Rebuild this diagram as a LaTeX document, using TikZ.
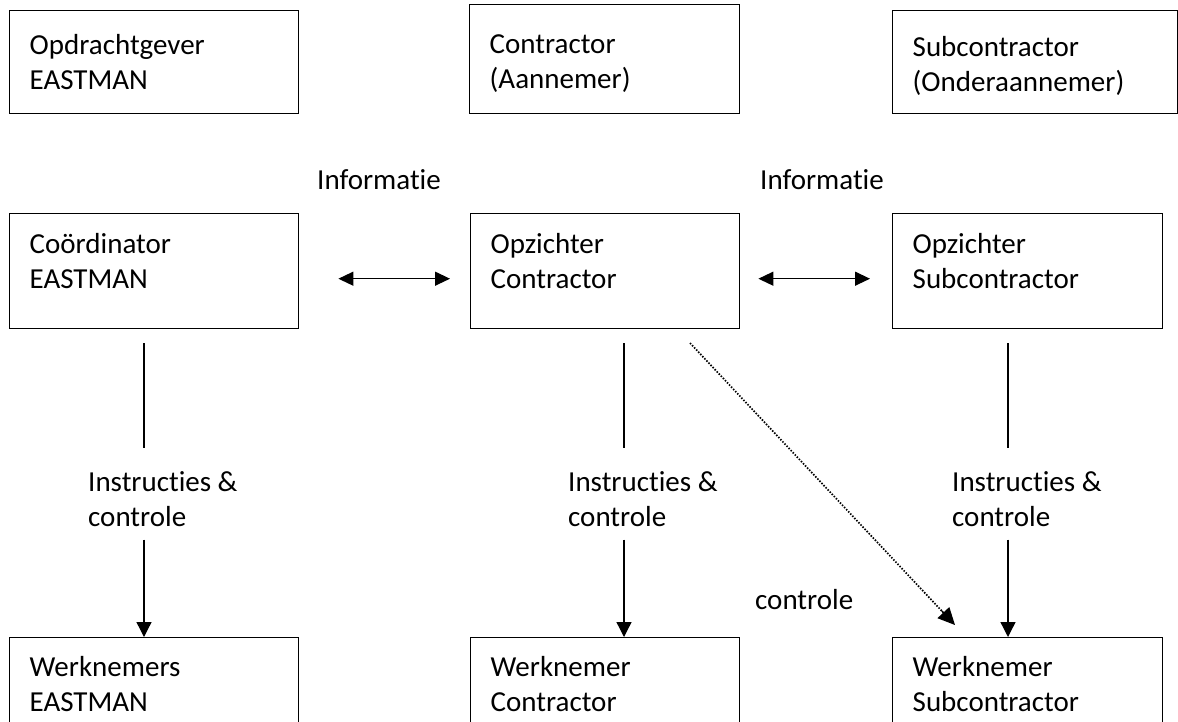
\documentclass[tikz,border=0pt]{standalone}
\usepackage{fontspec}
\setmainfont{Carlito}[Ligatures=NoCommon]
\usetikzlibrary{arrows.meta}
\newcommand{\lift}[1]{\rule[-#1]{0pt}{0pt}}
\newcommand{\drop}[1]{\rule{0pt}{#1}}
\tikzset{
  box/.style={draw, line width=1.4pt, anchor=north west, inner xsep=20pt, inner ysep=0pt, align=left},
  lbl/.style={inner sep=0pt, align=left},
  conn/.style={line width=1.3pt},
  tip/.style={-{Triangle[length=15pt,width=15pt]}},
  dtip/.style={{Triangle[length=15pt,width=14pt]}-{Triangle[length=15pt,width=14pt]}},
  dots/.style={line width=1.7pt, dash pattern=on 1.5pt off 1.5pt}
}
\begin{document}
\begin{tikzpicture}[x=1pt,y=-1pt]
\fontsize{29}{35}\selectfont
\clip (0,0) rectangle (1178,721);
\fill[white] (0,0) rectangle (1178,721);
% top row
\node[box, minimum width=289pt, minimum height=103pt, text width=249pt] (A1) at (9,10) {Opdrachtgever\\EASTMAN};
\node[box, minimum width=270pt, minimum height=109pt, text width=230pt] (A2) at (469,4) {\drop{28pt}Contractor\\(Aannemer)};
\node[box, minimum width=285pt, minimum height=103pt, text width=245pt] (A3) at (892,10) {\drop{28pt}Subcontractor\\(Onderaannemer)};
% middle row
\node[box, minimum width=289pt, minimum height=115pt, text width=249pt] (B1) at (9,213) {Coördinator\\EASTMAN\lift{21pt}};
\node[box, minimum width=269pt, minimum height=115pt, text width=229pt] (B2) at (470,213) {Opzichter\\Contractor\lift{21pt}};
\node[box, minimum width=270pt, minimum height=115pt, text width=230pt] (B3) at (892,213) {Opzichter\\Subcontractor\lift{21pt}};
% bottom row
\node[box, minimum width=289pt, minimum height=115pt, text width=249pt] (C1) at (9,637) {Werknemers\\EASTMAN\lift{22pt}};
\node[box, minimum width=269pt, minimum height=115pt, text width=229pt] (C2) at (470,637) {Werknemer\\Contractor\lift{22pt}};
\node[box, minimum width=270pt, minimum height=115pt, text width=230pt] (C3) at (892,637) {Werknemer\\Subcontractor\lift{22pt}};
% information labels
\node[lbl, anchor=west] (inf1) at (317,180) {Informatie};
\node[lbl, anchor=west] (inf2) at (760,180) {Informatie};
\draw[conn, dtip] ([xshift=39pt,yshift=-7.5pt]B1.east) -- ([xshift=-20pt,yshift=-7.5pt]B2.west);
\draw[conn, dtip] ([xshift=18pt,yshift=-7.5pt]B2.east) -- ([xshift=-22pt,yshift=-7.5pt]B3.west);
% instruction labels
\node[lbl, anchor=north west] (I1) at (88,471) {Instructies \&\\controle};
\node[lbl, anchor=north west] (I2) at (568,471) {Instructies \&\\controle};
\node[lbl, anchor=north west] (I3) at (952,471) {Instructies \&\\controle};
\coordinate (s1) at (144,343);
\coordinate (s2) at (624,343);
\coordinate (s3) at (1008,343);
\draw[conn, shorten >=23pt] (s1) -- (s1 |- I1.north);
\draw[conn, shorten >=23pt] (s2) -- (s2 |- I2.north);
\draw[conn, shorten >=23pt] (s3) -- (s3 |- I3.north);
\draw[conn, tip, shorten <=13pt] (I1.south -| s1) -- (C1.north -| s1);
\draw[conn, tip, shorten <=13pt] (I2.south -| s2) -- (C2.north -| s2);
\draw[conn, tip, shorten <=13pt] (I3.south -| s3) -- (C3.north -| s3);
% dotted control
\node[lbl, anchor=west] (ctl) at (755,600) {controle};
\coordinate (d1) at (690,343);
\coordinate (d2) at (955,625);
\coordinate (d3) at (941.3,610.4);
\draw[dots, shorten >=14pt] (d1) -- (d2);
\draw[line width=1.2pt, -{Triangle[length=17pt,width=16pt]}] (d3) -- (d2);
\end{tikzpicture}
\end{document}
